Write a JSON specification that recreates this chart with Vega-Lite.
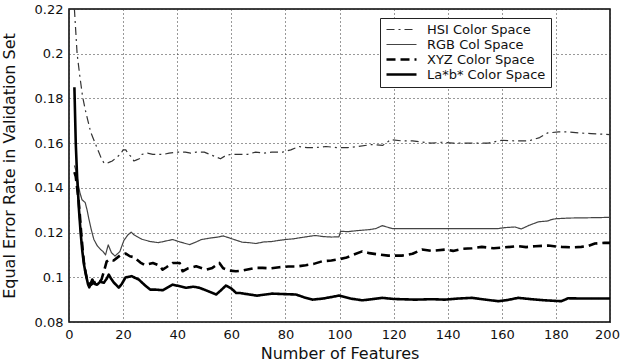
{
  "$schema": "https://vega.github.io/schema/vega-lite/v6.json",
  "width": 541,
  "height": 313,
  "autosize": {"type": "none"},
  "padding": {"left": 69, "top": 9, "right": 10, "bottom": 40},
  "background": "white",
  "config": {
    "view": {"stroke": "black", "strokeWidth": 1.5},
    "font": "DejaVu Sans",
    "axis": {
      "grid": true,
      "gridColor": "#333",
      "gridDash": [1, 3],
      "domain": false,
      "tickColor": "black",
      "labelColor": "#111",
      "labelFontSize": 13,
      "titleColor": "#111",
      "titleFontWeight": "normal",
      "titleFontSize": 16
    }
  },
  "datasets": {
    "curves": [
      {"s": "HSI", "x": 2, "y": 0.22}, {"s": "HSI", "x": 3, "y": 0.2}, {"s": "HSI", "x": 4, "y": 0.19}, {"s": "HSI", "x": 5, "y": 0.181}, {"s": "HSI", "x": 6, "y": 0.175}, {"s": "HSI", "x": 7, "y": 0.17}, {"s": "HSI", "x": 8, "y": 0.165}, {"s": "HSI", "x": 9, "y": 0.162}, {"s": "HSI", "x": 10, "y": 0.159}, {"s": "HSI", "x": 11, "y": 0.156}, {"s": "HSI", "x": 12, "y": 0.153}, {"s": "HSI", "x": 13, "y": 0.151}, {"s": "HSI", "x": 14, "y": 0.151}, {"s": "HSI", "x": 15, "y": 0.1515}, {"s": "HSI", "x": 16, "y": 0.152}, {"s": "HSI", "x": 17, "y": 0.153}, {"s": "HSI", "x": 18, "y": 0.154}, {"s": "HSI", "x": 19, "y": 0.155}, {"s": "HSI", "x": 20, "y": 0.157}, {"s": "HSI", "x": 21, "y": 0.157}, {"s": "HSI", "x": 22, "y": 0.155}, {"s": "HSI", "x": 23, "y": 0.154}, {"s": "HSI", "x": 24, "y": 0.152}, {"s": "HSI", "x": 25, "y": 0.1525}, {"s": "HSI", "x": 26, "y": 0.153}, {"s": "HSI", "x": 27, "y": 0.155}, {"s": "HSI", "x": 29, "y": 0.1555}, {"s": "HSI", "x": 31, "y": 0.155}, {"s": "HSI", "x": 33, "y": 0.155}, {"s": "HSI", "x": 35, "y": 0.155}, {"s": "HSI", "x": 37, "y": 0.1555}, {"s": "HSI", "x": 40, "y": 0.156}, {"s": "HSI", "x": 43, "y": 0.156}, {"s": "HSI", "x": 45, "y": 0.1555}, {"s": "HSI", "x": 47, "y": 0.156}, {"s": "HSI", "x": 50, "y": 0.156}, {"s": "HSI", "x": 52, "y": 0.155}, {"s": "HSI", "x": 54, "y": 0.154}, {"s": "HSI", "x": 56, "y": 0.153}, {"s": "HSI", "x": 58, "y": 0.1545}, {"s": "HSI", "x": 60, "y": 0.155}, {"s": "HSI", "x": 63, "y": 0.155}, {"s": "HSI", "x": 66, "y": 0.155}, {"s": "HSI", "x": 69, "y": 0.156}, {"s": "HSI", "x": 72, "y": 0.1555}, {"s": "HSI", "x": 75, "y": 0.156}, {"s": "HSI", "x": 79, "y": 0.156}, {"s": "HSI", "x": 82, "y": 0.157}, {"s": "HSI", "x": 85, "y": 0.1585}, {"s": "HSI", "x": 88, "y": 0.158}, {"s": "HSI", "x": 91, "y": 0.158}, {"s": "HSI", "x": 95, "y": 0.1585}, {"s": "HSI", "x": 99, "y": 0.158}, {"s": "HSI", "x": 103, "y": 0.158}, {"s": "HSI", "x": 107, "y": 0.1585}, {"s": "HSI", "x": 112, "y": 0.1594}, {"s": "HSI", "x": 116, "y": 0.159}, {"s": "HSI", "x": 119, "y": 0.1616}, {"s": "HSI", "x": 123, "y": 0.161}, {"s": "HSI", "x": 127, "y": 0.161}, {"s": "HSI", "x": 130, "y": 0.1606}, {"s": "HSI", "x": 134, "y": 0.16}, {"s": "HSI", "x": 138, "y": 0.1604}, {"s": "HSI", "x": 142, "y": 0.16}, {"s": "HSI", "x": 146, "y": 0.16}, {"s": "HSI", "x": 150, "y": 0.16}, {"s": "HSI", "x": 155, "y": 0.16}, {"s": "HSI", "x": 160, "y": 0.1613}, {"s": "HSI", "x": 165, "y": 0.161}, {"s": "HSI", "x": 170, "y": 0.161}, {"s": "HSI", "x": 174, "y": 0.1625}, {"s": "HSI", "x": 177, "y": 0.1646}, {"s": "HSI", "x": 181, "y": 0.165}, {"s": "HSI", "x": 185, "y": 0.165}, {"s": "HSI", "x": 189, "y": 0.1645}, {"s": "HSI", "x": 193, "y": 0.1643}, {"s": "HSI", "x": 197, "y": 0.164}, {"s": "HSI", "x": 200, "y": 0.1638},

      {"s": "RGB", "x": 2, "y": 0.15}, {"s": "RGB", "x": 2.5, "y": 0.148}, {"s": "RGB", "x": 3, "y": 0.145}, {"s": "RGB", "x": 3.5, "y": 0.141}, {"s": "RGB", "x": 4, "y": 0.138}, {"s": "RGB", "x": 4.8, "y": 0.1347}, {"s": "RGB", "x": 6, "y": 0.1334}, {"s": "RGB", "x": 6.7, "y": 0.13}, {"s": "RGB", "x": 7.4, "y": 0.1258}, {"s": "RGB", "x": 8.3, "y": 0.121}, {"s": "RGB", "x": 9.2, "y": 0.1169}, {"s": "RGB", "x": 10.5, "y": 0.114}, {"s": "RGB", "x": 11.7, "y": 0.1124}, {"s": "RGB", "x": 12.6, "y": 0.1115}, {"s": "RGB", "x": 13.5, "y": 0.11}, {"s": "RGB", "x": 14.5, "y": 0.1145}, {"s": "RGB", "x": 15.7, "y": 0.111}, {"s": "RGB", "x": 17, "y": 0.1095}, {"s": "RGB", "x": 18.8, "y": 0.1115}, {"s": "RGB", "x": 20.3, "y": 0.1165}, {"s": "RGB", "x": 21.8, "y": 0.119}, {"s": "RGB", "x": 23, "y": 0.1202}, {"s": "RGB", "x": 24, "y": 0.119}, {"s": "RGB", "x": 25, "y": 0.1183}, {"s": "RGB", "x": 27, "y": 0.117}, {"s": "RGB", "x": 30, "y": 0.116}, {"s": "RGB", "x": 33, "y": 0.1155}, {"s": "RGB", "x": 35, "y": 0.116}, {"s": "RGB", "x": 38.3, "y": 0.1169}, {"s": "RGB", "x": 41, "y": 0.1158}, {"s": "RGB", "x": 44.6, "y": 0.1146}, {"s": "RGB", "x": 47, "y": 0.1158}, {"s": "RGB", "x": 49, "y": 0.1169}, {"s": "RGB", "x": 52, "y": 0.1175}, {"s": "RGB", "x": 55, "y": 0.118}, {"s": "RGB", "x": 57, "y": 0.1185}, {"s": "RGB", "x": 59.3, "y": 0.1176}, {"s": "RGB", "x": 62, "y": 0.1165}, {"s": "RGB", "x": 64, "y": 0.1157}, {"s": "RGB", "x": 66.5, "y": 0.1155}, {"s": "RGB", "x": 69.1, "y": 0.1151}, {"s": "RGB", "x": 72, "y": 0.1158}, {"s": "RGB", "x": 75, "y": 0.116}, {"s": "RGB", "x": 77.5, "y": 0.1165}, {"s": "RGB", "x": 80.2, "y": 0.1169}, {"s": "RGB", "x": 83, "y": 0.1172}, {"s": "RGB", "x": 86, "y": 0.1178}, {"s": "RGB", "x": 91, "y": 0.1187}, {"s": "RGB", "x": 94, "y": 0.1182}, {"s": "RGB", "x": 97, "y": 0.118}, {"s": "RGB", "x": 99.8, "y": 0.1181}, {"s": "RGB", "x": 100.4, "y": 0.1206}, {"s": "RGB", "x": 103, "y": 0.1204}, {"s": "RGB", "x": 106, "y": 0.1208}, {"s": "RGB", "x": 110.9, "y": 0.1213}, {"s": "RGB", "x": 113.5, "y": 0.1218}, {"s": "RGB", "x": 115.8, "y": 0.1231}, {"s": "RGB", "x": 117.5, "y": 0.1225}, {"s": "RGB", "x": 119.5, "y": 0.1218}, {"s": "RGB", "x": 125, "y": 0.1218}, {"s": "RGB", "x": 135, "y": 0.1218}, {"s": "RGB", "x": 145, "y": 0.1218}, {"s": "RGB", "x": 152, "y": 0.1218}, {"s": "RGB", "x": 158.7, "y": 0.1218}, {"s": "RGB", "x": 161, "y": 0.1222}, {"s": "RGB", "x": 164.9, "y": 0.1225}, {"s": "RGB", "x": 167.2, "y": 0.1216}, {"s": "RGB", "x": 170, "y": 0.1232}, {"s": "RGB", "x": 173.5, "y": 0.1248}, {"s": "RGB", "x": 177, "y": 0.1252}, {"s": "RGB", "x": 178.3, "y": 0.1258}, {"s": "RGB", "x": 180, "y": 0.1262}, {"s": "RGB", "x": 185, "y": 0.1265}, {"s": "RGB", "x": 191, "y": 0.1266}, {"s": "RGB", "x": 200, "y": 0.1268},

      {"s": "XYZ", "x": 2, "y": 0.147}, {"s": "XYZ", "x": 2.5, "y": 0.145}, {"s": "XYZ", "x": 3, "y": 0.14}, {"s": "XYZ", "x": 3.5, "y": 0.135}, {"s": "XYZ", "x": 4, "y": 0.128}, {"s": "XYZ", "x": 4.5, "y": 0.12}, {"s": "XYZ", "x": 5, "y": 0.113}, {"s": "XYZ", "x": 5.5, "y": 0.107}, {"s": "XYZ", "x": 6, "y": 0.103}, {"s": "XYZ", "x": 6.5, "y": 0.1}, {"s": "XYZ", "x": 7, "y": 0.098}, {"s": "XYZ", "x": 8, "y": 0.0965}, {"s": "XYZ", "x": 9, "y": 0.0975}, {"s": "XYZ", "x": 10, "y": 0.098}, {"s": "XYZ", "x": 11, "y": 0.0975}, {"s": "XYZ", "x": 12, "y": 0.099}, {"s": "XYZ", "x": 13, "y": 0.103}, {"s": "XYZ", "x": 13.9, "y": 0.107}, {"s": "XYZ", "x": 15, "y": 0.108}, {"s": "XYZ", "x": 16.5, "y": 0.1075}, {"s": "XYZ", "x": 18.8, "y": 0.1097}, {"s": "XYZ", "x": 21, "y": 0.1106}, {"s": "XYZ", "x": 22.5, "y": 0.1094}, {"s": "XYZ", "x": 24, "y": 0.109}, {"s": "XYZ", "x": 25, "y": 0.108}, {"s": "XYZ", "x": 26.4, "y": 0.1066}, {"s": "XYZ", "x": 28, "y": 0.1055}, {"s": "XYZ", "x": 31, "y": 0.1064}, {"s": "XYZ", "x": 33.5, "y": 0.1052}, {"s": "XYZ", "x": 34.6, "y": 0.1034}, {"s": "XYZ", "x": 36, "y": 0.1045}, {"s": "XYZ", "x": 38.3, "y": 0.1064}, {"s": "XYZ", "x": 40.9, "y": 0.1064}, {"s": "XYZ", "x": 42, "y": 0.1027}, {"s": "XYZ", "x": 44, "y": 0.104}, {"s": "XYZ", "x": 47, "y": 0.1049}, {"s": "XYZ", "x": 50.8, "y": 0.1034}, {"s": "XYZ", "x": 53, "y": 0.1042}, {"s": "XYZ", "x": 55.6, "y": 0.1064}, {"s": "XYZ", "x": 57, "y": 0.104}, {"s": "XYZ", "x": 59.3, "y": 0.103}, {"s": "XYZ", "x": 61.7, "y": 0.1027}, {"s": "XYZ", "x": 64, "y": 0.103}, {"s": "XYZ", "x": 66, "y": 0.1035}, {"s": "XYZ", "x": 69, "y": 0.1042}, {"s": "XYZ", "x": 71.6, "y": 0.1042}, {"s": "XYZ", "x": 74.5, "y": 0.104}, {"s": "XYZ", "x": 77.7, "y": 0.1045}, {"s": "XYZ", "x": 81, "y": 0.1048}, {"s": "XYZ", "x": 84, "y": 0.1048}, {"s": "XYZ", "x": 87.5, "y": 0.1054}, {"s": "XYZ", "x": 90.5, "y": 0.106}, {"s": "XYZ", "x": 93.7, "y": 0.1072}, {"s": "XYZ", "x": 97, "y": 0.1075}, {"s": "XYZ", "x": 99.5, "y": 0.108}, {"s": "XYZ", "x": 102.3, "y": 0.1087}, {"s": "XYZ", "x": 105, "y": 0.11}, {"s": "XYZ", "x": 108.4, "y": 0.1116}, {"s": "XYZ", "x": 111, "y": 0.1108}, {"s": "XYZ", "x": 114.5, "y": 0.1102}, {"s": "XYZ", "x": 118, "y": 0.1097}, {"s": "XYZ", "x": 123.1, "y": 0.1097}, {"s": "XYZ", "x": 127, "y": 0.1105}, {"s": "XYZ", "x": 130.5, "y": 0.1124}, {"s": "XYZ", "x": 134, "y": 0.1118}, {"s": "XYZ", "x": 139.1, "y": 0.1124}, {"s": "XYZ", "x": 142, "y": 0.1118}, {"s": "XYZ", "x": 145.2, "y": 0.1127}, {"s": "XYZ", "x": 149, "y": 0.113}, {"s": "XYZ", "x": 152.6, "y": 0.1136}, {"s": "XYZ", "x": 157, "y": 0.113}, {"s": "XYZ", "x": 161.2, "y": 0.1134}, {"s": "XYZ", "x": 166.1, "y": 0.1139}, {"s": "XYZ", "x": 169, "y": 0.1135}, {"s": "XYZ", "x": 172.3, "y": 0.1139}, {"s": "XYZ", "x": 177.2, "y": 0.1142}, {"s": "XYZ", "x": 180, "y": 0.1138}, {"s": "XYZ", "x": 182.1, "y": 0.1136}, {"s": "XYZ", "x": 186, "y": 0.1134}, {"s": "XYZ", "x": 189.4, "y": 0.1136}, {"s": "XYZ", "x": 192, "y": 0.114}, {"s": "XYZ", "x": 194.4, "y": 0.1151}, {"s": "XYZ", "x": 198, "y": 0.1154}, {"s": "XYZ", "x": 200, "y": 0.1154},

      {"s": "Lab", "x": 2, "y": 0.185}, {"s": "Lab", "x": 2.5, "y": 0.16}, {"s": "Lab", "x": 3, "y": 0.145}, {"s": "Lab", "x": 3.7, "y": 0.13}, {"s": "Lab", "x": 4.3, "y": 0.12}, {"s": "Lab", "x": 4.9, "y": 0.112}, {"s": "Lab", "x": 5.5, "y": 0.106}, {"s": "Lab", "x": 6.1, "y": 0.102}, {"s": "Lab", "x": 7, "y": 0.097}, {"s": "Lab", "x": 7.5, "y": 0.0955}, {"s": "Lab", "x": 8.6, "y": 0.099}, {"s": "Lab", "x": 9.5, "y": 0.097}, {"s": "Lab", "x": 10.4, "y": 0.0967}, {"s": "Lab", "x": 11.5, "y": 0.098}, {"s": "Lab", "x": 12.9, "y": 0.0976}, {"s": "Lab", "x": 14, "y": 0.0995}, {"s": "Lab", "x": 14.7, "y": 0.1012}, {"s": "Lab", "x": 15.5, "y": 0.0995}, {"s": "Lab", "x": 16.6, "y": 0.0976}, {"s": "Lab", "x": 18.4, "y": 0.0954}, {"s": "Lab", "x": 19.5, "y": 0.097}, {"s": "Lab", "x": 20.9, "y": 0.0999}, {"s": "Lab", "x": 22, "y": 0.1002}, {"s": "Lab", "x": 23.2, "y": 0.1005}, {"s": "Lab", "x": 24.5, "y": 0.0997}, {"s": "Lab", "x": 25.8, "y": 0.099}, {"s": "Lab", "x": 28, "y": 0.0965}, {"s": "Lab", "x": 30, "y": 0.0945}, {"s": "Lab", "x": 32, "y": 0.0945}, {"s": "Lab", "x": 34.6, "y": 0.0942}, {"s": "Lab", "x": 36.5, "y": 0.0955}, {"s": "Lab", "x": 38.3, "y": 0.0967}, {"s": "Lab", "x": 41, "y": 0.096}, {"s": "Lab", "x": 43.3, "y": 0.0953}, {"s": "Lab", "x": 46, "y": 0.0958}, {"s": "Lab", "x": 48.2, "y": 0.0953}, {"s": "Lab", "x": 51, "y": 0.094}, {"s": "Lab", "x": 54.4, "y": 0.0923}, {"s": "Lab", "x": 56, "y": 0.094}, {"s": "Lab", "x": 58, "y": 0.0963}, {"s": "Lab", "x": 60, "y": 0.095}, {"s": "Lab", "x": 61.8, "y": 0.093}, {"s": "Lab", "x": 63, "y": 0.093}, {"s": "Lab", "x": 66.7, "y": 0.0923}, {"s": "Lab", "x": 69.5, "y": 0.0918}, {"s": "Lab", "x": 72, "y": 0.0922}, {"s": "Lab", "x": 75.2, "y": 0.0927}, {"s": "Lab", "x": 79, "y": 0.0925}, {"s": "Lab", "x": 83.9, "y": 0.0923}, {"s": "Lab", "x": 87, "y": 0.091}, {"s": "Lab", "x": 90, "y": 0.09}, {"s": "Lab", "x": 94, "y": 0.0905}, {"s": "Lab", "x": 99.8, "y": 0.0918}, {"s": "Lab", "x": 104, "y": 0.0905}, {"s": "Lab", "x": 108.4, "y": 0.0897}, {"s": "Lab", "x": 112, "y": 0.0902}, {"s": "Lab", "x": 115.8, "y": 0.0908}, {"s": "Lab", "x": 120, "y": 0.0903}, {"s": "Lab", "x": 128, "y": 0.09}, {"s": "Lab", "x": 134, "y": 0.0902}, {"s": "Lab", "x": 139, "y": 0.09}, {"s": "Lab", "x": 144, "y": 0.0905}, {"s": "Lab", "x": 148.9, "y": 0.0908}, {"s": "Lab", "x": 154, "y": 0.09}, {"s": "Lab", "x": 158.7, "y": 0.0893}, {"s": "Lab", "x": 162, "y": 0.0898}, {"s": "Lab", "x": 166, "y": 0.0908}, {"s": "Lab", "x": 171, "y": 0.0902}, {"s": "Lab", "x": 176, "y": 0.0897}, {"s": "Lab", "x": 182, "y": 0.0893}, {"s": "Lab", "x": 184.5, "y": 0.0906}, {"s": "Lab", "x": 190, "y": 0.0905}, {"s": "Lab", "x": 200, "y": 0.0905}
    ]
  },
  "data": {"name": "curves"},
  "mark": {"type": "line", "strokeCap": "butt", "strokeJoin": "round"},
  "encoding": {
    "x": {
      "field": "x", "type": "quantitative",
      "scale": {"domain": [0, 200], "nice": false, "zero": false},
      "axis": {"grid": true, "tickCount": 10, "title": "Number of Features", "labelPadding": 6, "tickSize": 0, "titlePadding": 4, "labelFlush": false,
        "labelOffset": {"condition": {"test": "datum.value == 200", "value": -3}, "value": 0}}
    },
    "y": {
      "field": "y", "type": "quantitative",
      "scale": {"domain": [0.08, 0.22], "nice": false, "zero": false},
      "axis": {"grid": true, "tickCount": 7, "format": "~g", "title": "Equal Error Rate in Validation Set", "labelPadding": 6, "tickSize": 0, "titlePadding": 17}
    },
    "strokeDash": {
      "field": "s", "type": "nominal",
      "scale": {"domain": ["HSI", "RGB", "XYZ", "Lab"], "range": [[8, 4, 2, 4], [1, 0], [9, 5], [1, 0]]},
      "legend": {
        "orient": "none", "legendX": 311, "legendY": 9,
        "title": null,
        "symbolType": "M-1,0H5", "symbolSize": 100,
        "labelFontSize": 13, "labelColor": "#111",
        "strokeColor": "#222", "fillColor": "white", "padding": 5,
        "rowPadding": 1, "labelOffset": 29,
        "labelExpr": "{'HSI': 'HSI Color Space', 'RGB': 'RGB Col Space', 'XYZ': 'XYZ Color Space', 'Lab': 'La*b* Color Space'}[datum.value]"
      }
    },
    "strokeWidth": {
      "field": "s", "type": "nominal",
      "scale": {"type": "ordinal", "domain": ["HSI", "RGB", "XYZ", "Lab"], "range": [1.2, 1.2, 2.6, 2.6]}
    },
    "color": {
      "field": "s", "type": "nominal",
      "scale": {"domain": ["HSI", "RGB", "XYZ", "Lab"], "range": ["#333", "#444", "#000", "#000"]}
    }
  }
}
